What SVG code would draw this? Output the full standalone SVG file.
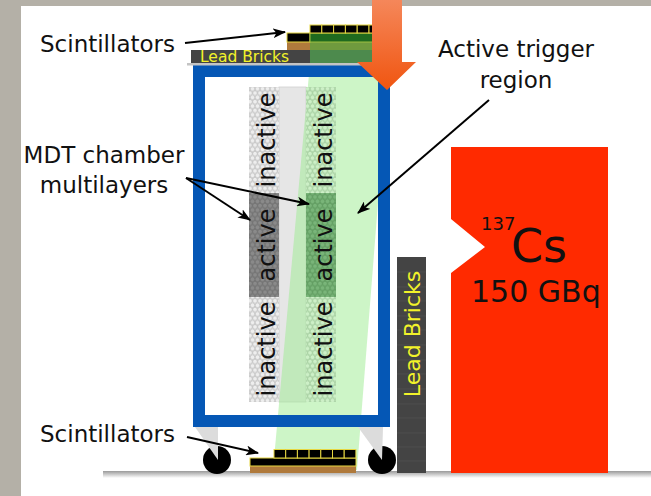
<svg xmlns="http://www.w3.org/2000/svg" width="651" height="496" viewBox="0 0 651 496">
  <defs>
    <style>
      .lbl { font-family: "DejaVu Sans", "Liberation Sans", sans-serif; font-size: 23px; fill: #111; }
      .tube { font-family: "DejaVu Sans", "Liberation Sans", sans-serif; font-size: 24px; fill: #111; }
      .lead { font-family: "DejaVu Sans", "Liberation Sans", sans-serif; fill: #f2f22a; }
      .ptr { stroke: #000; stroke-width: 2; fill: none; marker-end: url(#head); }
      .scint { fill: #000; stroke: #e6d640; stroke-width: 1; }
    </style>
    <marker id="head" viewBox="0 0 12 9" refX="11" refY="4.5" markerWidth="13" markerHeight="10" markerUnits="userSpaceOnUse" orient="auto">
      <path d="M0,0 L12,4.5 L0,9 L3,4.5 z" fill="#000"/>
    </marker>
    <!-- honeycomb of drift tubes -->
    <pattern id="tubesPale" width="5" height="8.66" patternUnits="userSpaceOnUse">
      <rect width="5" height="8.66" fill="#d9d9d9"/>
      <circle cx="2.5" cy="2.16" r="2.3" fill="#eeeeee" stroke="#b9b9b9" stroke-width="0.6"/>
      <circle cx="0" cy="6.49" r="2.3" fill="#eeeeee" stroke="#b9b9b9" stroke-width="0.6"/>
      <circle cx="5" cy="6.49" r="2.3" fill="#eeeeee" stroke="#b9b9b9" stroke-width="0.6"/>
    </pattern>
    <pattern id="tubesDark" width="5" height="8.66" patternUnits="userSpaceOnUse">
      <rect width="5" height="8.66" fill="#7a7a7a"/>
      <circle cx="2.5" cy="2.16" r="2.3" fill="#8a8a8a" stroke="#6c6c6c" stroke-width="0.6"/>
      <circle cx="0" cy="6.49" r="2.3" fill="#8a8a8a" stroke="#6c6c6c" stroke-width="0.6"/>
      <circle cx="5" cy="6.49" r="2.3" fill="#8a8a8a" stroke="#6c6c6c" stroke-width="0.6"/>
    </pattern>
    <pattern id="tubesPaleGreen" width="5" height="8.66" patternUnits="userSpaceOnUse">
      <rect width="5" height="8.66" fill="#b9e2b3"/>
      <circle cx="2.5" cy="2.16" r="2.3" fill="#cdf0c7" stroke="#9dc697" stroke-width="0.6"/>
      <circle cx="0" cy="6.49" r="2.3" fill="#cdf0c7" stroke="#9dc697" stroke-width="0.6"/>
      <circle cx="5" cy="6.49" r="2.3" fill="#cdf0c7" stroke="#9dc697" stroke-width="0.6"/>
    </pattern>
    <pattern id="tubesDarkGreen" width="5" height="8.66" patternUnits="userSpaceOnUse">
      <rect width="5" height="8.66" fill="#6aa76a"/>
      <circle cx="2.5" cy="2.16" r="2.3" fill="#79b579" stroke="#5a955a" stroke-width="0.6"/>
      <circle cx="0" cy="6.49" r="2.3" fill="#79b579" stroke="#5a955a" stroke-width="0.6"/>
      <circle cx="5" cy="6.49" r="2.3" fill="#79b579" stroke="#5a955a" stroke-width="0.6"/>
    </pattern>
    <linearGradient id="floorShade" x1="0" y1="0" x2="0" y2="1">
      <stop offset="0" stop-color="#9a9a9a"/>
      <stop offset="1" stop-color="#ffffff"/>
    </linearGradient>
    <linearGradient id="beam" x1="0" y1="0" x2="0" y2="1">
      <stop offset="0" stop-color="#f5875a"/>
      <stop offset="1" stop-color="#f05510"/>
    </linearGradient>
  </defs>

  <!-- page -->
  <rect width="651" height="496" fill="#b4b0a7"/>
  <rect x="21" y="6" width="630" height="490" fill="#ffffff"/>

  <!-- floor -->
  <rect id="floor" x="103" y="471" width="548" height="7" fill="url(#floorShade)"/>

  <!-- gap between the multilayers -->
  <rect x="279" y="87" width="27" height="315" fill="#e6e6e6" stroke="#cfcfcf" stroke-width="0.8"/>

  <!-- left multilayer -->
  <g id="multilayer-left">
    <rect x="249" y="87" width="30" height="106" fill="url(#tubesPale)"/>
    <rect x="249" y="193" width="30" height="104" fill="url(#tubesDark)"/>
    <rect x="249" y="297" width="30" height="105" fill="url(#tubesPale)"/>
  </g>

  <!-- active trigger region -->
  <polygon id="trigger-region" points="310,63 389,63 357,470 273,470" fill="#9beb8f" fill-opacity="0.5"/>

  <!-- right multilayer -->
  <g id="multilayer-right">
    <rect x="306" y="87" width="30" height="106" fill="url(#tubesPaleGreen)"/>
    <rect x="306" y="193" width="30" height="104" fill="url(#tubesDarkGreen)"/>
    <rect x="306" y="297" width="30" height="105" fill="url(#tubesPaleGreen)"/>
  </g>

  <!-- tube labels -->
  <g id="tube-labels">
    <text class="tube" text-anchor="middle" transform="translate(275,140) rotate(-90)">inactive</text>
    <text class="tube" text-anchor="middle" transform="translate(275,245) rotate(-90)">active</text>
    <text class="tube" text-anchor="middle" transform="translate(275,349) rotate(-90)">inactive</text>
    <text class="tube" text-anchor="middle" transform="translate(332,140) rotate(-90)">inactive</text>
    <text class="tube" text-anchor="middle" transform="translate(332,245) rotate(-90)">active</text>
    <text class="tube" text-anchor="middle" transform="translate(332,349) rotate(-90)">inactive</text>
  </g>

  <!-- support frame -->
  <g id="frame">
    <rect x="199" y="71" width="185" height="350" fill="none" stroke="#0557b5" stroke-width="12"/>
    <circle cx="217" cy="460" r="14" fill="#000"/>
    <circle cx="382" cy="460" r="14" fill="#000"/>
    <polygon points="195,427 218,427 218,460" fill="#dcdcdc"/>
    <polygon points="358,427 383,427 382,460" fill="#dcdcdc"/>
  </g>

  <!-- top scintillators on lead bricks -->
  <g id="top-stack">
    <rect x="191" y="50" width="119" height="13" fill="#444"/>
    <rect x="310" y="50" width="80" height="13" fill="#4d8a4d"/>
    <rect x="187" y="63" width="200" height="2.5" fill="#c4c4c4"/>
    <text class="lead" x="200" y="61.5" font-size="15.5">Lead Bricks</text>
    <rect x="287" y="42" width="23" height="8" fill="#b07a3c"/>
    <rect x="310" y="42" width="83" height="8" fill="#6f9a3e"/>
    <rect x="287" y="33" width="23" height="9" class="scint"/>
    <rect x="310" y="33" width="83" height="9" fill="#1f6a1f" stroke="#9fbf40" stroke-width="1"/>
    <rect x="310" y="25" width="11.8" height="8" class="scint"/>
    <rect x="321.8" y="25" width="11.8" height="8" class="scint"/>
    <rect x="333.6" y="25" width="11.8" height="8" class="scint"/>
    <rect x="345.4" y="25" width="11.8" height="8" class="scint"/>
    <rect x="357.2" y="25" width="11.8" height="8" class="scint"/>
    <rect x="369" y="25" width="11.8" height="8" class="scint"/>
    <rect x="380.8" y="25" width="11.8" height="8" class="scint"/>
  </g>

  <!-- bottom scintillators -->
  <g id="bottom-stack">
    <rect x="250" y="466" width="106" height="7" fill="#b07a3c"/>
    <rect x="250" y="458" width="106" height="8" class="scint"/>
    <rect x="274" y="449.5" width="11.7" height="8.5" class="scint"/>
    <rect x="285.7" y="449.5" width="11.7" height="8.5" class="scint"/>
    <rect x="297.4" y="449.5" width="11.7" height="8.5" class="scint"/>
    <rect x="309.1" y="449.5" width="11.7" height="8.5" class="scint"/>
    <rect x="320.8" y="449.5" width="11.7" height="8.5" class="scint"/>
    <rect x="332.5" y="449.5" width="11.7" height="8.5" class="scint"/>
    <rect x="344.2" y="449.5" width="11.7" height="8.5" class="scint"/>
  </g>

  <!-- lead shielding wall -->
  <g id="lead-wall">
    <rect x="397" y="257" width="29" height="216" fill="#444"/>
    <g stroke="#525252" stroke-width="0.8">
      <line x1="397" y1="272" x2="426" y2="272"/>
      <line x1="397" y1="287" x2="426" y2="287"/>
      <line x1="397" y1="301" x2="426" y2="301"/>
      <line x1="397" y1="316" x2="426" y2="316"/>
      <line x1="397" y1="330" x2="426" y2="330"/>
      <line x1="397" y1="345" x2="426" y2="345"/>
      <line x1="397" y1="360" x2="426" y2="360"/>
      <line x1="397" y1="374" x2="426" y2="374"/>
      <line x1="397" y1="389" x2="426" y2="389"/>
      <line x1="397" y1="404" x2="426" y2="404"/>
      <line x1="397" y1="418" x2="426" y2="418"/>
      <line x1="397" y1="433" x2="426" y2="433"/>
      <line x1="397" y1="447" x2="426" y2="447"/>
      <line x1="397" y1="461" x2="426" y2="461"/>
    </g>
    <text class="lead" font-size="22" text-anchor="middle" transform="translate(420,334) rotate(-90)">Lead Bricks</text>
  </g>

  <!-- caesium source -->
  <g id="source">
    <polygon points="451,147 608,147 608,473 451,473 451,273 485,247 451,219" fill="#ff2a00"/>
    <text x="481" y="230" font-family="DejaVu Sans, Liberation Sans, sans-serif" font-size="18" fill="#111">137</text>
    <text x="511" y="262" font-family="DejaVu Sans, Liberation Sans, sans-serif" font-size="46" fill="#111">Cs</text>
    <text x="471" y="302" font-family="DejaVu Sans, Liberation Sans, sans-serif" font-size="30" fill="#111">150 GBq</text>
  </g>

  <!-- labels -->
  <g id="labels">
    <text class="lbl" x="40" y="52">Scintillators</text>
    <text class="lbl" x="40" y="442">Scintillators</text>
    <text class="lbl" x="104" y="163" text-anchor="middle">MDT chamber</text>
    <text class="lbl" x="104" y="193" text-anchor="middle">multilayers</text>
    <text class="lbl" x="516" y="57" text-anchor="middle">Active trigger</text>
    <text class="lbl" x="516" y="88" text-anchor="middle">region</text>
  </g>

  <!-- pointers -->
  <g id="connectors">
    <line class="ptr" x1="185" y1="43" x2="285" y2="32"/>
    <line class="ptr" x1="187" y1="437" x2="258" y2="453"/>
    <line class="ptr" x1="186" y1="178" x2="250" y2="220"/>
    <line class="ptr" x1="186" y1="178" x2="309" y2="204"/>
    <line class="ptr" x1="489" y1="100" x2="358" y2="213"/>
  </g>

  <!-- gamma beam -->
  <polygon id="beam-arrow" points="372,0 402,0 402,62 416,62 387,90 357,62 372,62" fill="url(#beam)"/>
</svg>
